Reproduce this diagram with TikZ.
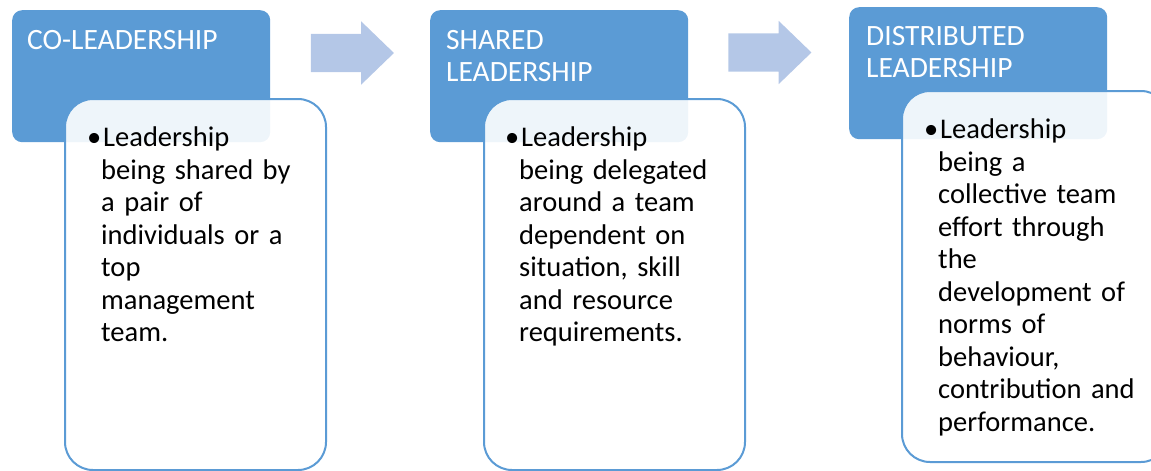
\documentclass[tikz,border=0pt]{standalone}
\usepackage{fontspec}
\setmainfont{Carlito}
\usetikzlibrary{positioning,shapes.arrows}
\definecolor{kek}{HTML}{5B9BD5}
\definecolor{halvany}{HTML}{B4C7E7}
\newcommand{\pont}{\noindent\llap{\textbullet}\hspace{2pt}}
\tikzset{
  fejlec/.style={fill=kek,rounded corners=10pt,inner sep=0pt,anchor=north west,
                 minimum width=258pt,minimum height=132pt},
  tartalom/.style={draw=kek,line width=2pt,fill=white,fill opacity=0.9,rounded corners=28pt,
                   inner sep=0pt,anchor=north west,minimum width=261pt,minimum height=371pt},
  cimsor/.style={text=white,inner sep=0pt,align=left,font=\fontsize{29.5}{32}\selectfont},
  pontok/.style={inner sep=0pt,align=left,text width=228pt,font=\fontsize{28.5}{32.5}\selectfont},
  blokknyil/.style={single arrow,fill=halvany,draw=none,inner xsep=0pt,inner ysep=19pt,
                    minimum height=83pt,single arrow head extend=12.5pt,single arrow tip angle=88},
}
\begin{document}
\begin{tikzpicture}[x=1pt,y=-1pt]
  \useasboundingbox (0,0) rectangle (1151,471);
  \clip (0,0) rectangle (1151,471);
  % co-leadership
  \node[fejlec] (f1) at (12,10) {};
  \node[cimsor,below right=20pt and 15pt of f1.north west] (c1) {CO-LEADERSHIP};
  \node[tartalom] (t1) at (64,98) {};
  \node[pontok,below right=29pt and 37pt of t1.north west] (p1)
    {\pont Leadership\\being shared by\\a pair of\\individuals or a\\top\\management\\team.};
  \node[blokknyil] (n1) at (342.5,53) {};
  % shared leadership
  \node[fejlec] (f2) at (430,10) {};
  \node[cimsor,below right=20pt and 16pt of f2.north west] (c2) {SHARED\\LEADERSHIP};
  \node[tartalom] (t2) at (483,98) {};
  \node[pontok,below right=29pt and 36pt of t2.north west] (p2)
    {\pont Leadership\\being delegated\\around a team\\dependent on\\situation, skill\\and resource\\requirements.};
  \node[blokknyil] (n2) at (760,52.5) {};
  % distributed leadership
  \node[fejlec] (f3) at (849,7) {};
  \node[cimsor,below right=19pt and 17pt of f3.north west] (c3) {DISTRIBUTED\\LEADERSHIP};
  \node[tartalom,minimum width=267pt] (t3) at (901,90) {};
  \node[pontok,below right=29pt and 37pt of t3.north west] (p3)
    {\pont Leadership\\being a\\collective team\\effort through\\the\\development of\\norms of\\behaviour,\\contribution and\\performance.};
\end{tikzpicture}
\end{document}
